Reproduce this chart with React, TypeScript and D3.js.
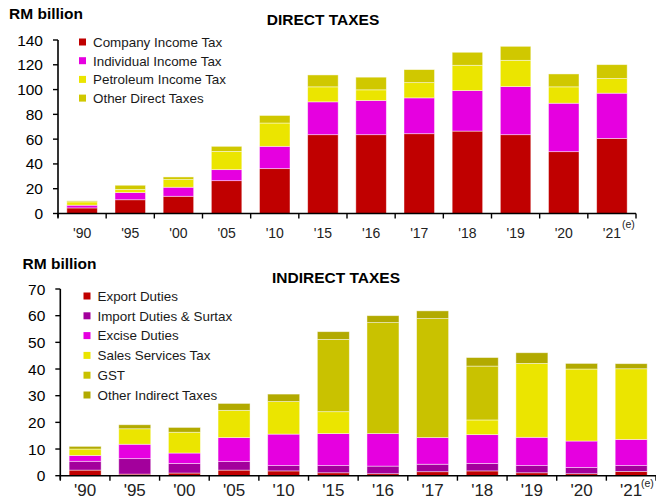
import React from "react";
import * as d3 from "d3";

const years = ["'90", "'95", "'00", "'05", "'10", "'15", "'16", "'17", "'18", "'19", "'20", "'21"];

// Direct taxes (RM billion)
const companyIncomeTax = [4.5, 11.1, 13.9, 26.5, 36.2, 63.6, 63.6, 64.4, 66.5, 63.6, 49.9, 60.6];
const individualIncomeTax = [2.2, 5.8, 7.3, 8.9, 18.0, 26.5, 27.6, 28.9, 32.7, 38.8, 39.1, 36.5];
const petroleumIncomeTax = [2.7, 2.5, 6.2, 14.7, 18.8, 12.1, 8.6, 12.3, 20.4, 21.2, 13.2, 11.8];
const otherDirectTaxes = [0.8, 3.4, 2.1, 4.1, 6.1, 9.6, 10.2, 10.5, 10.5, 11.3, 10.4, 11.2];

// Indirect taxes (RM billion)
const exportDuties = [2.1, 0.6, 1.0, 2.1, 1.8, 1.1, 0.75, 1.5, 1.8, 1.1, 0.75, 1.6];
const importDuties = [3.3, 5.8, 3.6, 3.2, 2.0, 2.7, 2.85, 2.8, 2.8, 2.7, 2.35, 2.2];
const exciseDuties = [2.2, 5.4, 3.9, 9.0, 11.8, 12.0, 12.2, 10.0, 10.8, 10.6, 9.9, 9.8];
const salesServicesTax = [2.4, 5.8, 7.8, 10.2, 12.2, 8.2, 0, 0, 5.5, 27.7, 27.0, 26.5];
const gst = [0, 0, 0, 0, 0, 27.1, 41.6, 44.6, 20.2, 0, 0, 0];
const otherIndirectTaxes = [1.0, 1.5, 1.8, 2.6, 2.8, 2.9, 2.6, 2.9, 3.2, 4.0, 2.1, 1.9];

const directTicks = [0, 20, 40, 60, 80, 100, 120, 140];
const indirectTicks = [0, 10, 20, 30, 40, 50, 60, 70];

const directSeries = [
  { name: "Company Income Tax", values: companyIncomeTax, color: "#C00000" },
  { name: "Individual Income Tax", values: individualIncomeTax, color: "#E600E0" },
  { name: "Petroleum Income Tax", values: petroleumIncomeTax, color: "#EBE500" },
  { name: "Other Direct Taxes", values: otherDirectTaxes, color: "#D0C800" },
];

const indirectSeries = [
  { name: "Export Duties", values: exportDuties, color: "#C00000" },
  { name: "Import Duties & Surtax", values: importDuties, color: "#A3009C" },
  { name: "Excise Duties", values: exciseDuties, color: "#E600E0" },
  { name: "Sales Services Tax", values: salesServicesTax, color: "#EBE500" },
  { name: "GST", values: gst, color: "#C9C200" },
  { name: "Other Indirect Taxes", values: otherIndirectTaxes, color: "#B2AA00" },
];

const FONT = "'Liberation Sans', Arial, Helvetica, sans-serif";

type Series = { name: string; values: number[]; color: string };

function Panel(props: {
  series: Series[];
  ticks: number[];
  x0: number;
  x1: number;
  y0: number;
  y1: number;
  barW: number;
  tickFont: number;
  xFont: number;
  xLabelY: number;
  title: string;
  titleX: number;
  titleY: number;
  titleSize: number;
  unitX: number;
  unitY: number;
  legendX: number;
  legendY: number;
  legendStep: number;
  eX: number;
  eY: number;
  axisEnd: number;
}) {
  const { series, ticks, x0, x1, y0, y1, barW } = props;
  const step = (x1 - x0) / years.length;
  const p = 1 - barW / step;
  const x = d3.scaleBand<string>().domain(years).range([x0, x1]).paddingInner(p).paddingOuter(p / 2);
  const y = d3.scaleLinear().domain([0, ticks[ticks.length - 1]]).range([y0, y1]);
  const table = years.map((yr, i) => {
    const row: any = { year: yr };
    series.forEach((s) => (row[s.name] = s.values[i]));
    return row;
  });
  const stacked = d3.stack<any>().keys(series.map((s) => s.name))(table);
  const bounds = d3.range(years.length + 1).map((i) => x0 + i * step);

  return (
    <g fontFamily={FONT}>
      <text x={props.unitX} y={props.unitY} fontSize={15.5} fontWeight="bold" fill="#000">
        RM billion
      </text>
      <text x={props.titleX} y={props.titleY} fontSize={props.titleSize} fontWeight="bold" textAnchor="middle" fill="#000">
        {props.title}
      </text>
      {stacked.map((layer, li) => (
        <g key={layer.key} fill={series[li].color}>
          {layer.map((d, i) =>
            d[1] - d[0] > 0 ? (
              <rect
                key={i}
                x={x(years[i])}
                y={y(d[1])}
                width={x.bandwidth()}
                height={y(d[0]) - y(d[1])}
                stroke="#ffffff"
                strokeOpacity={0.55}
                strokeWidth={0.8}
              />
            ) : null
          )}
        </g>
      ))}
      {/* y axis */}
      <line x1={x0} x2={x0} y1={y1} y2={y0 + 4} stroke="#000" strokeWidth={1.6} />
      {ticks.map((t) => (
        <g key={t}>
          <line x1={x0 - 5} x2={x0} y1={y(t)} y2={y(t)} stroke="#000" strokeWidth={1.4} />
          <text x={x0 - 15} y={y(t) + 5.5} fontSize={props.tickFont} textAnchor="end" fill="#000">
            {t}
          </text>
        </g>
      ))}
      {/* x axis */}
      <line x1={x0} x2={props.axisEnd} y1={y0} y2={y0} stroke="#000" strokeWidth={1.6} />
      {bounds.map((b, i) => (
        <line key={i} x1={b} x2={b} y1={y0} y2={y0 + 5} stroke="#000" strokeWidth={1.4} />
      ))}
      {years.map((yr) => (
        <text
          key={yr}
          x={(x(yr) as number) + x.bandwidth() / 2}
          y={props.xLabelY}
          fontSize={props.xFont}
          textAnchor="middle"
          fill="#222"
        >
          {yr}
        </text>
      ))}
      <text x={props.eX} y={props.eY} fontSize={10.5} fill="#222">
        (e)
      </text>
      {/* legend */}
      {series.map((s, i) => {
        const cy = props.legendY + i * props.legendStep;
        return (
          <g key={s.name}>
            <rect x={props.legendX} y={cy - 3.5} width={7} height={7} fill={s.color} />
            <text x={props.legendX + 14} y={cy + 4.8} fontSize={13.4} fill="#1a1a1a">
              {s.name}
            </text>
          </g>
        );
      })}
    </g>
  );
}

export default function App() {
  return (
    <svg
      width={656}
      height={500}
      style={{ position: "absolute", left: 0, top: 0, background: "#fff" }}
    >
      <Panel
        series={directSeries}
        ticks={directTicks}
        x0={58}
        x1={636}
        y0={213.5}
        y1={40}
        barW={30.5}
        tickFont={15.5}
        xFont={14}
        xLabelY={238}
        title="DIRECT TAXES"
        titleX={323}
        titleY={25}
        titleSize={15.5}
        unitX={9}
        unitY={19}
        legendX={79}
        legendY={42}
        legendStep={18.7}
        eX={622}
        eY={228}
        axisEnd={636}
      />
      <Panel
        series={indirectSeries}
        ticks={indirectTicks}
        x0={60.3}
        x1={656}
        y0={475.7}
        y1={289}
        barW={32}
        tickFont={15.5}
        xFont={17}
        xLabelY={496}
        title="INDIRECT TAXES"
        titleX={336}
        titleY={283}
        titleSize={15.5}
        unitX={22.5}
        unitY={269}
        legendX={83.5}
        legendY={296}
        legendStep={19.8}
        eX={641}
        eY={487}
        axisEnd={656}
      />
    </svg>
  );
}
